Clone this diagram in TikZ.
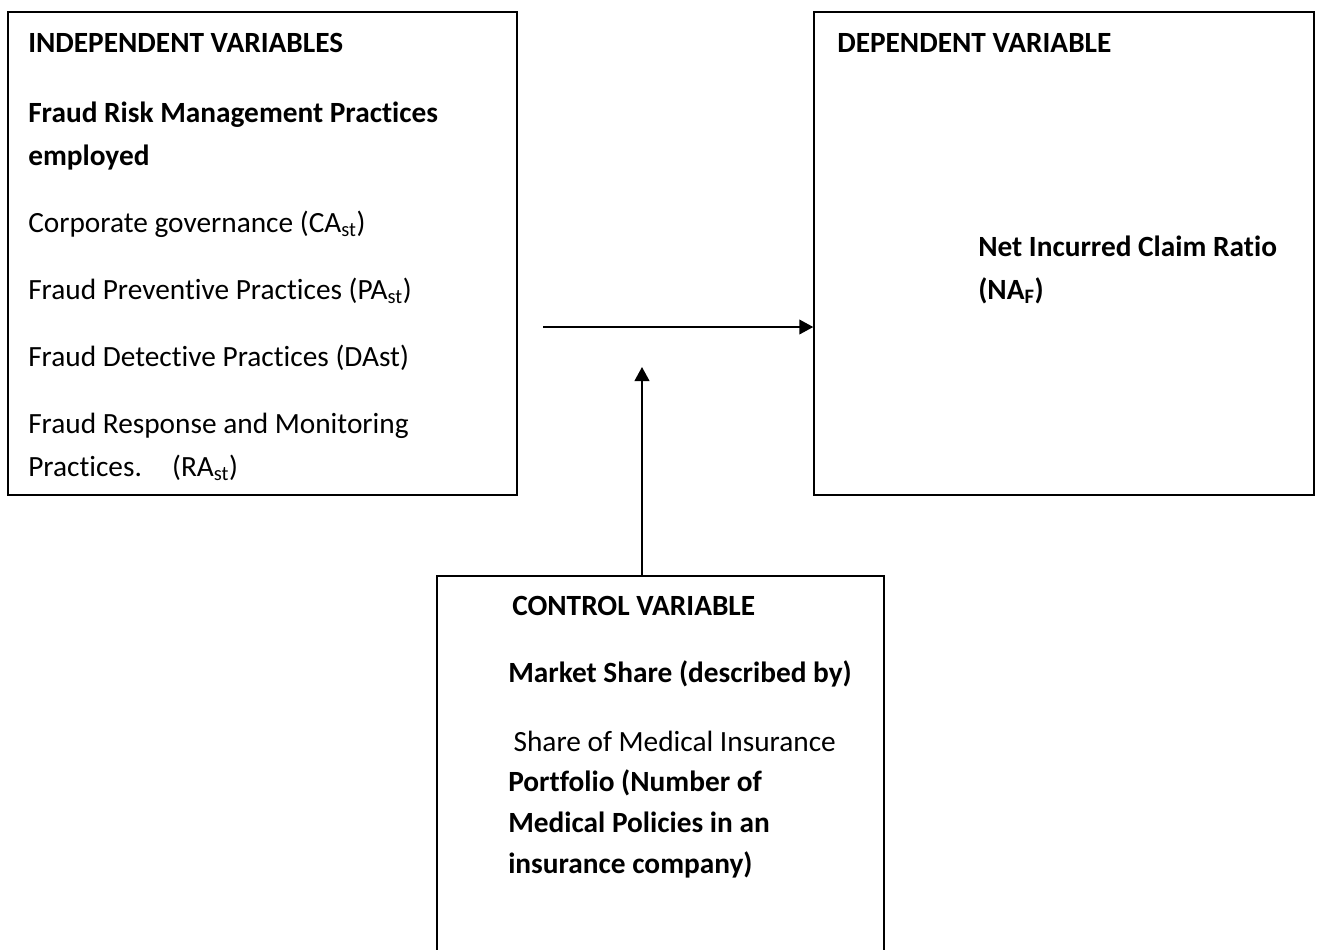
\documentclass[tikz,border=0pt]{standalone}
\usepackage{fontspec}
\setmainfont{Carlito}[Ligatures=NoCommon]
\usetikzlibrary{arrows.meta, positioning}

\begin{document}
\begin{tikzpicture}[
    x=0.75pt, y=-0.75pt,
    every node/.style={font=\fontsize{22}{32.25}\selectfont},
    varbox/.style={
        draw=black, line width=1.1pt,
        rectangle, inner sep=0pt
    },
    txt/.style={
        anchor=base west, align=left, inner sep=0pt
    },
    arrow/.style={-{Triangle[length=10.5pt, width=11pt]}, line width=1.5pt, draw=black}
]

% ── CANVAS ─────────────────────────────────────────────────────
\useasboundingbox (0,0) rectangle (1322,950);
\clip (0,0) rectangle (1322,950);

% === BOXES ===
\node[varbox, minimum width=381.75pt, minimum height=362.25pt]
    (indep) at (262.5, 253.5) {};

\node[varbox, minimum width=375pt, minimum height=362.25pt]
    (dep) at (1064, 253.5) {};

\node[varbox, minimum width=335.25pt, minimum height=310.5pt]
    (ctrl) at (660.5, 783) {};

% === LEFT TEXT ===
% (multi-line texts sit on the baseline of their last line)
\node[txt] (indephead) at (28, 52) {\textbf{INDEPENDENT VARIABLES}};

\node[txt] (indeplist) at (28, 476)
    {\textbf{Fraud Risk Management Practices}\\
     \textbf{employed}\\[17.5pt]
     Corporate governance (CA\textsubscript{st})\\[18pt]
     Fraud Preventive Practices (PA\textsubscript{st})\\[18pt]
     Fraud Detective Practices (DAst)\\[18pt]
     Fraud Response and Monitoring\\
     Practices. \hspace{16pt}(RA\textsubscript{st})};

% === RIGHT TEXT ===
\node[txt] (dephead) at (837, 52) {\textbf{DEPENDENT VARIABLE}};

\node[txt] (deptxt) at (978, 299)
    {\textbf{Net Incurred Claim Ratio}\\
     \textbf{(NA\textsubscript{F})}};

% === CONTROL TEXT ===
\node[txt] (ctrlhead) at (512, 615) {\textbf{CONTROL VARIABLE}};

\node[txt, font=\fontsize{22}{30.5}\selectfont] (ctrltxt) at (508, 873)
    {\textbf{Market Share (described by)}\\[21pt]
     \hspace{4pt}Share of Medical Insurance\\
     \textbf{Portfolio (Number of}\\
     \textbf{Medical Policies in an}\\
     \textbf{insurance company)}};

% ── ARROWS ─────────────────────────────────────────────────────
\coordinate (hstart) at (543, 327);
\coordinate (vtip) at (642, 367);

% Independent -> Dependent
\draw[arrow] (hstart) -- (hstart -| dep.west);

% Control -> relation
\draw[arrow] (vtip |- ctrl.north) -- (vtip);

\end{tikzpicture}
\end{document}
